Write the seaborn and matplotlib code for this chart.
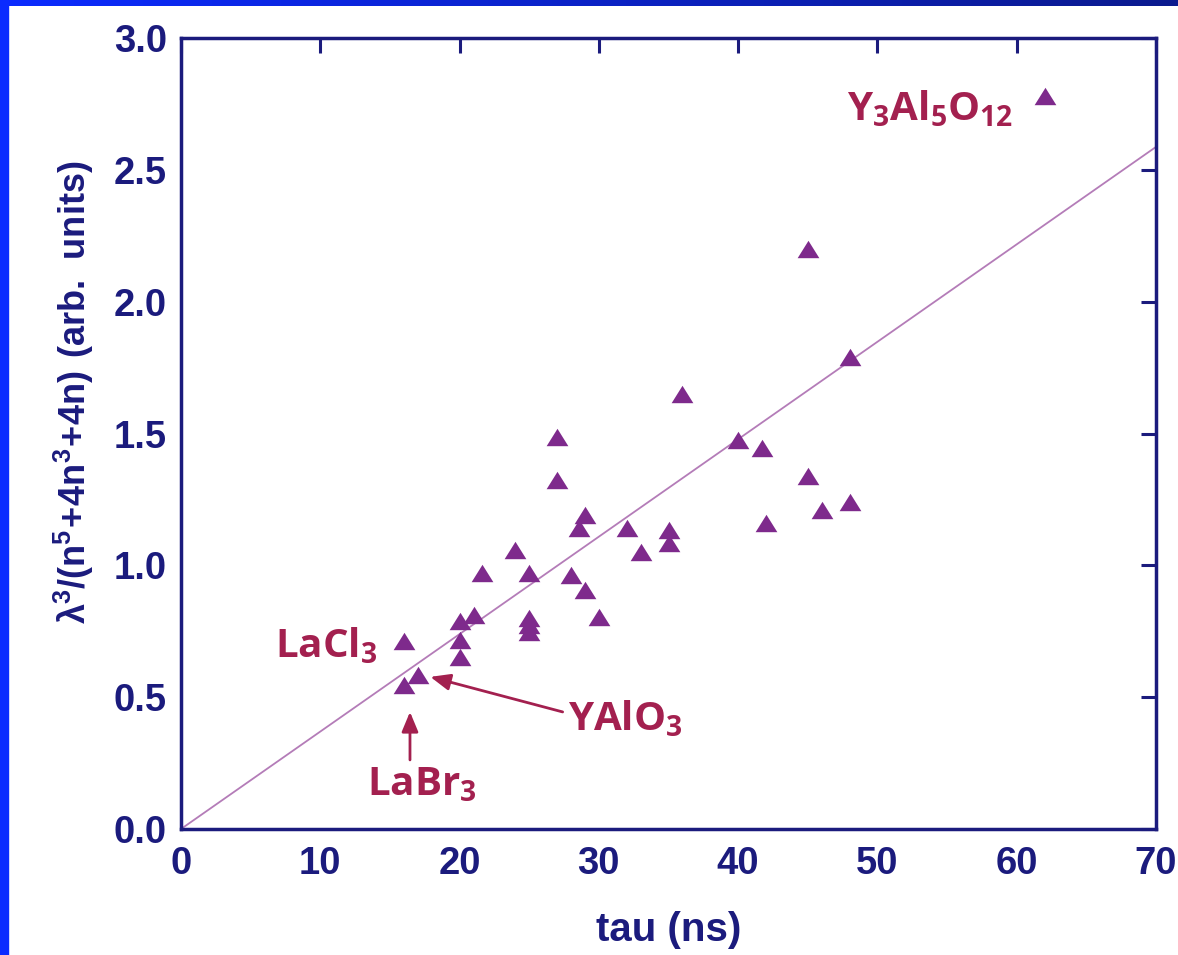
import numpy as np
import pandas as pd
import matplotlib
matplotlib.use("Agg")
import matplotlib.pyplot as plt
import seaborn as sns
from matplotlib.colors import LinearSegmentedColormap
from matplotlib.patches import Rectangle
from matplotlib.path import Path

# ---------------- data ----------------
tau_ns = [62, 45, 48, 36, 40, 41.7, 45, 46, 48, 42,
          27, 27, 29, 28.6, 32, 33, 35, 35, 24, 21.6,
          25, 28, 29, 30, 21, 20, 20, 20, 25, 25,
          25, 16, 16, 17]
ratio = [2.78, 2.20, 1.79, 1.65, 1.475, 1.445, 1.34, 1.21, 1.24, 1.16,
         1.485, 1.325, 1.19, 1.14, 1.14, 1.05, 1.135, 1.085, 1.06, 0.97,
         0.97, 0.965, 0.905, 0.805, 0.81, 0.79, 0.717, 0.652, 0.80, 0.775,
         0.748, 0.714, 0.546, 0.583]
fit_tau = [0, 70]
fit_ratio = [0, 2.587]

x_ticks = [0, 10, 20, 30, 40, 50, 60, 70]
x_tick_labels = ["0", "10", "20", "30", "40", "50", "60", "70"]
y_ticks = [0.0, 0.5, 1.0, 1.5, 2.0, 2.5, 3.0]
y_tick_labels = ["0.0", "0.5", "1.0", "1.5", "2.0", "2.5", "3.0"]

labels = [r"$\mathbf{LaCl_3}$", r"$\mathbf{YAlO_3}$", r"$\mathbf{LaBr_3}$", r"$\mathbf{Y_3Al_5O_{12}}$"]
label_x = [6.75, 27.8, 13.35, 47.8]
label_y = [0.652, 0.375, 0.129, 2.689]

# ---------------- style ----------------
sns.set_style("white")
plt.rcParams["font.family"] = ["Liberation Sans", "DejaVu Sans"]
plt.rcParams["font.weight"] = "bold"
plt.rcParams["mathtext.fontset"] = "custom"
plt.rcParams["mathtext.bf"] = "Open Sans:bold"
plt.rcParams["mathtext.rm"] = "Open Sans:bold"
plt.rcParams["mathtext.sf"] = "Liberation Sans:bold"

navy = "#1b1b7d"
purple = "#7e2a8c"
crimson = "#a3204f"
line_col = "#b47cb8"

W, H = 1178, 955
fig = plt.figure(figsize=(W / 100, H / 100), dpi=100)
fig.patch.set_facecolor("white")

ax = fig.add_axes([181 / W, 1 - 829 / H, (1156 - 181) / W, (829 - 38) / H])

df = pd.DataFrame({"tau": tau_ns, "ratio": ratio})
fit_df = pd.DataFrame({"tau": fit_tau, "ratio": fit_ratio})

sns.lineplot(data=fit_df, x="tau", y="ratio", color=line_col, lw=1.3, ax=ax, zorder=2)

tri = Path([(-1.0, -0.8), (1.0, -0.8), (0.0, 0.8), (-1.0, -0.8)],
           [Path.MOVETO, Path.LINETO, Path.LINETO, Path.CLOSEPOLY])
sns.scatterplot(data=df, x="tau", y="ratio", marker=tri, s=245, color=purple,
                edgecolor=purple, linewidth=0, ax=ax, zorder=3)

ax.set_xlim(0, 70)
ax.set_ylim(0, 3.0)
ax.set_xticks(x_ticks)
ax.set_xticklabels(x_tick_labels)
ax.set_yticks(y_ticks)
ax.set_yticklabels(y_tick_labels)

for sp in ax.spines.values():
    sp.set_color(navy)
    sp.set_linewidth(2.5)

ax.tick_params(axis="both", direction="in", length=11, width=2.2, color=navy,
               top=True, right=True, labelcolor=navy, labelsize=27.5)
ax.tick_params(axis="x", pad=12)
ax.tick_params(axis="y", pad=10)
for t in ax.get_xticklabels() + ax.get_yticklabels():
    t.set_fontweight("bold")

ax.set_xlabel("tau (ns)", fontsize=29, color=navy, fontweight="bold")
ax.xaxis.set_label_coords(0.5, -0.104)
ax.set_ylabel(r"$\mathsf{\lambda^3/(n^5\!+\!4n^3\!+\!4n)\ (arb.\ units)}$",
              fontsize=26, color=navy)
ax.yaxis.set_label_coords(-0.087, 0.552)

for txt, lx, ly in zip(labels, label_x, label_y):
    ax.text(lx, ly, txt, color=crimson, fontsize=29, ha="left", va="baseline", zorder=4)

arrow_kw = dict(arrowstyle="-|>,head_length=0.6,head_width=0.25", color=crimson,
                lw=2.0, mutation_scale=20, shrinkA=0, shrinkB=0)
ax.annotate("", xy=(17.9, 0.577), xytext=(27.4, 0.444), arrowprops=arrow_kw, zorder=4)
ax.annotate("", xy=(16.44, 0.444), xytext=(16.44, 0.262), arrowprops=arrow_kw, zorder=4)

# slide frame: blue strip on the left and gradient strip on top
fig.add_artist(Rectangle((0, 0), 8 / W, 1, transform=fig.transFigure,
                         color="#0b2bff", zorder=10))
bar = fig.add_axes([0, 1 - 6 / H, 1, 6 / H])
cmap = LinearSegmentedColormap.from_list("frame", ["#0b2bff", "#0c1a8e"])
bar.imshow(np.linspace(0, 1, 256)[None, :], aspect="auto", cmap=cmap)
bar.set_axis_off()

fig.savefig("out.png", dpi=100, facecolor="white")
